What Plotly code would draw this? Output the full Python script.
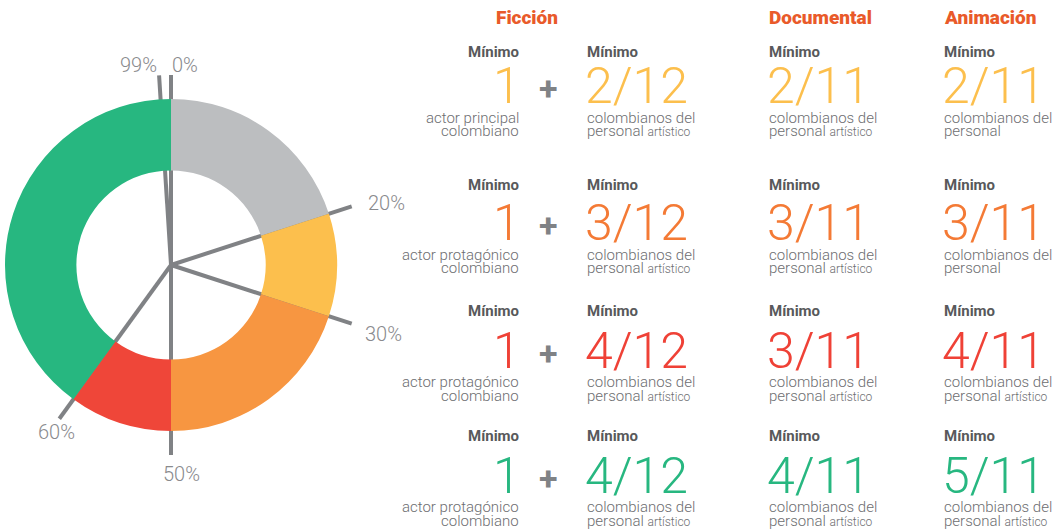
import math
import plotly.graph_objects as go

# ---------------- data ----------------
segment_names = ["0-20%", "20-30%", "30-50%", "50-60%", "60-100%"]
segment_values = [20, 10, 20, 10, 40]
segment_colors = ["#BCBEC0", "#FCBF4D", "#F79641", "#EF4639", "#27B780"]

marker_pcts = [0, 20, 30, 50, 60, 99]
marker_labels = ["0%", "20%", "30%", "50%", "60%", "99%"]

categories = ["Ficción", "Documental", "Animación"]
row_colors = ["#FCBF4D", "#F47A35", "#EF4136", "#27B780"]
ficcion_actor = ["1", "1", "1", "1"]
actor_line1 = ["actor principal", "actor protagónico", "actor protagónico", "actor protagónico"]
actor_line2 = ["colombiano", "colombiano", "colombiano", "colombiano"]
ficcion_frac = ["2/12", "3/12", "4/12", "4/12"]
documental_frac = ["2/11", "3/11", "3/11", "4/11"]
animacion_frac = ["2/11", "3/11", "4/11", "5/11"]
animacion_art = [False, False, True, True]

# ---------------- layout constants ----------------
W, H = 1056, 529
CX, CY = 171, 265
R_OUT = 166
LINE_LEN = 190
GREY = "#808285"
FONT = "Roboto"

fig = go.Figure()

fig.add_trace(go.Pie(
    labels=segment_names, values=segment_values,
    marker=dict(colors=segment_colors, line=dict(width=0)),
    hole=0.57, sort=False, direction="clockwise", rotation=0,
    textinfo="none", hoverinfo="skip", showlegend=False,
    domain=dict(x=[(CX - R_OUT) / W, (CX + R_OUT) / W],
                y=[1 - (CY + R_OUT) / H, 1 - (CY - R_OUT) / H]),
))

annotations = []
# radiating lines
label_r = {0: 200, 20: 225, 30: 223, 50: 208, 60: 205, 99: 200}
label_dx = {0: 14, 20: 2, 30: 0, 50: 10, 60: 6, 99: -20}
label_dy = {0: 0, 20: 8, 30: 0, 50: 1, 60: 1, 99: 0}
for p, lab in zip(marker_pcts, marker_labels):
    a = 2 * math.pi * p / 100
    sx, sy = math.sin(a), -math.cos(a)
    fig.add_trace(go.Scatter(
        x=[CX, CX + LINE_LEN * sx], y=[CY, CY + LINE_LEN * sy],
        mode="lines", line=dict(color=GREY, width=4),
        hoverinfo="skip", showlegend=False, xaxis="x", yaxis="y"))
    annotations.append(dict(
        x=CX + label_r[p] * sx + label_dx[p], y=CY + label_r[p] * sy + label_dy[p],
        xref="x", yref="y", text=lab, showarrow=False,
        font=dict(family=FONT, size=20, color="#898A8D", weight=300),
        xanchor="center", yanchor="middle"))


def txt(x, y, text, size, color, xanchor="left", weight="normal"):
    annotations.append(dict(
        x=x, y=y, xref="x", yref="y", text=text, showarrow=False,
        font=dict(family=FONT, size=size, color=color, weight=weight),
        xanchor=xanchor, yanchor="middle", borderpad=0))


HEAD = "#E95A2A"
MIN_C = "#58595B"
SUB_C = "#6D6E71"

head_x = [495, 768, 943]
for c, hx in zip(categories, head_x):
    txt(hx, 17, c, 19, HEAD, weight=900)

minimo_y = [52, 185, 311, 436]
big_y = [86, 223, 351, 476]
sub1_y = [118, 255, 382, 507]
sub2_y = [131, 268, 396, 521]

COL1_R = 519
PLUS_X = 548
COL2 = 588
COL3 = 770
COL4 = 945
BIG = 50

for i in range(4):
    col = row_colors[i]
    # Ficción: actor
    txt(COL1_R + 1, minimo_y[i], "Mínimo", 15, MIN_C, xanchor="right", weight="bold")
    txt(COL1_R + 3, big_y[i], ficcion_actor[i], BIG, col, xanchor="right", weight=300)
    txt(COL1_R + 1, sub1_y[i], actor_line1[i], 15, SUB_C, xanchor="right", weight=300)
    txt(COL1_R + 1, sub2_y[i], actor_line2[i], 15, SUB_C, xanchor="right", weight=300)
    txt(PLUS_X, big_y[i] + 2, "+", 34, GREY, xanchor="center", weight="bold")
    # fraction columns
    for x0, frac, art in ((COL2, ficcion_frac[i], True),
                          (COL3, documental_frac[i], True),
                          (COL4, animacion_frac[i], animacion_art[i])):
        txt(x0 - 2, minimo_y[i], "Mínimo", 15, MIN_C, weight="bold")
        txt(x0 - 4, big_y[i], frac, BIG, col, weight=300)
        txt(x0 - 2, sub1_y[i], "colombianos del", 15, SUB_C, weight=300)
        line2 = "personal" + (" <span style='font-size:12px'>artístico</span>" if art else "")
        txt(x0 - 2, sub2_y[i], line2, 15, SUB_C, weight=300)

fig.update_layout(
    width=W, height=H,
    margin=dict(l=0, r=0, t=0, b=0),
    paper_bgcolor="white", plot_bgcolor="rgba(0,0,0,0)",
    xaxis=dict(range=[0, W], domain=[0, 1], visible=False, fixedrange=True),
    yaxis=dict(range=[H, 0], domain=[0, 1], visible=False, fixedrange=True),
    annotations=annotations,
)

fig.write_html("out.html", config=dict(displayModeBar=False),
               post_script="document.body.style.margin='0';document.body.style.overflow='hidden';")
